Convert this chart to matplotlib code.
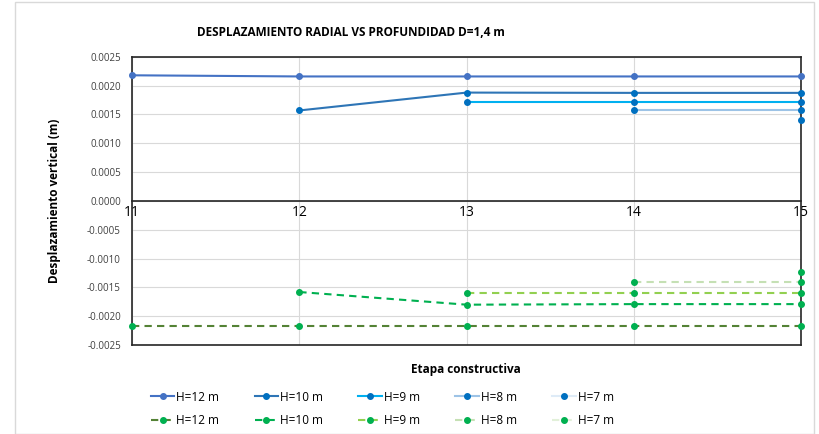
import matplotlib
matplotlib.use("Agg")
import matplotlib.pyplot as plt
from matplotlib.patches import Rectangle

plt.rcParams["font.family"] = ["Open Sans", "DejaVu Sans"]

etapas = [11, 12, 13, 14, 15]
labels = ["H=12 m", "H=10 m", "H=9 m", "H=8 m", "H=7 m"]

# radial displacement (positive side), None = no value at that stage
sup_h12 = [0.00218, 0.00216, 0.00216, 0.00216, 0.00216]
sup_h10 = [None, 0.00157, 0.00188, 0.001875, 0.001875]
sup_h9 = [None, None, 0.00172, 0.00172, 0.00172]
sup_h8 = [None, None, None, 0.00157, 0.00157]
sup_h7 = [None, None, None, None, 0.00141]

# negative side
inf_h12 = [-0.00217, -0.00217, -0.00217, -0.00217, -0.00217]
inf_h10 = [None, -0.00158, -0.00180, -0.00179, -0.00179]
inf_h9 = [None, None, -0.00159, -0.00159, -0.00159]
inf_h8 = [None, None, None, -0.00141, -0.00141]
inf_h7 = [None, None, None, None, -0.00124]

sup = [sup_h12, sup_h10, sup_h9, sup_h8, sup_h7]
inf = [inf_h12, inf_h10, inf_h9, inf_h8, inf_h7]
sup_colors = ["#4472C4", "#2E75B6", "#00B0F0", "#9DC3E6", "#DEEBF7"]
sup_markers = ["#4472C4", "#0070C0", "#0070C0", "#0070C0", "#0070C0"]
inf_colors = ["#548235", "#00B050", "#92D050", "#C5E0B4", "#E2F0D9"]

fig = plt.figure(figsize=(8.2, 4.34), dpi=100)
fig.patches.append(Rectangle((0.018, 0.0), 0.975, 0.995, transform=fig.transFigure,
                             fill=False, edgecolor="#D9D9D9", lw=1))
ax = fig.add_axes([0.161, 0.205, 0.816, 0.664])


def serie(vals):
    xs = [x for x, v in zip(etapas, vals) if v is not None]
    ys = [v for v in vals if v is not None]
    return xs, ys


handles = []
for i in range(5):
    xs, ys = serie(sup[i])
    h1, = ax.plot(xs, ys, "-", color=sup_colors[i], lw=1.5, marker="o", ms=4,
                  mfc=sup_markers[i], mec=sup_markers[i], label=labels[i], clip_on=False, zorder=3)
    xs, ys = serie(inf[i])
    h2, = ax.plot(xs, ys, "--", color=inf_colors[i], lw=1.5, marker="o", ms=4,
                  mfc="#00B050", mec="#00B050", label=labels[i], dashes=(3.5, 2.5),
                  clip_on=False, zorder=3)
    handles += [h1, h2]

ax.set_xlim(11, 15)
ax.set_ylim(-0.0025, 0.0025)
ax.set_yticks([0.0025 - 0.0005 * k for k in range(11)])
ax.yaxis.set_major_formatter(matplotlib.ticker.FormatStrFormatter("%.4f"))
ax.tick_params(axis="y", labelsize=7, length=0, pad=8, colors="#404040")
ax.set_xticks(etapas)
ax.set_xticklabels([str(e) for e in etapas], fontsize=10)
ax.tick_params(axis="x", length=0, pad=3)
ax.grid(True, color="#D9D9D9", lw=0.8)
ax.set_axisbelow(True)
ax.spines["bottom"].set_position(("data", 0))
for s in ax.spines.values():
    s.set_color("#262626")
    s.set_linewidth(1.2)
ax.axhline(-0.0025, color="#262626", lw=1.2, clip_on=False)

fig.text(0.24, 0.925, "DESPLAZAMIENTO RADIAL VS PROFUNDIDAD D=1,4 m", fontsize=8.5,
         fontweight="bold", ha="left", va="center")
fig.text(0.568, 0.148, "Etapa constructiva", fontsize=8.5, fontweight="bold",
         ha="center", va="center")
fig.text(0.067, 0.537, "Desplazamiento vertical (m)", fontsize=8.5, fontweight="bold",
         ha="center", va="center", rotation=90)

fig.legend(handles=handles, ncol=5, loc="upper left", bbox_to_anchor=(0.184, 0.1),
           frameon=False, fontsize=8.5, handlelength=2.0, columnspacing=3.0,
           handletextpad=0.15, labelspacing=0.9, borderpad=0, borderaxespad=0)

fig.savefig("out.png", dpi=100)
